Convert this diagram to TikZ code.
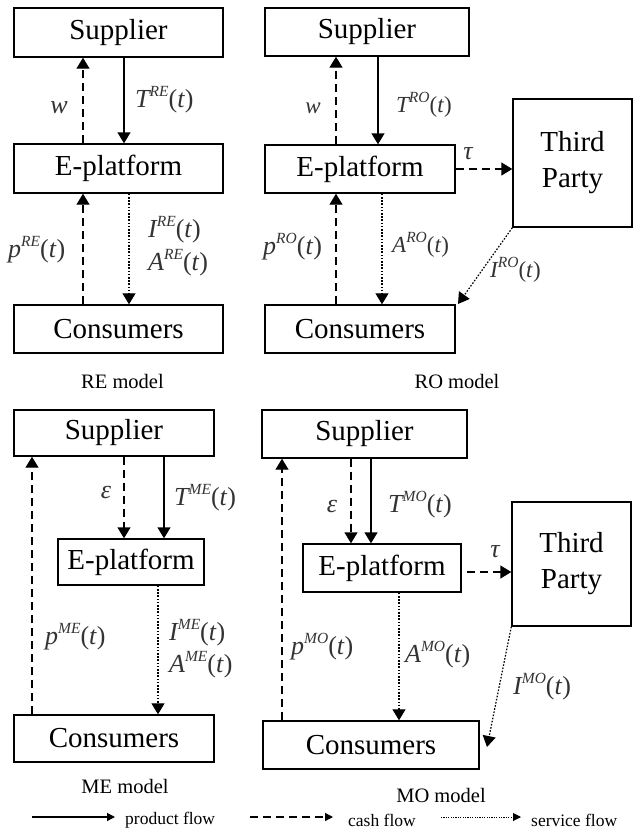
\documentclass[tikz,border=0pt]{standalone}
\usepackage{fontspec}
\setmainfont{Liberation Serif}
\usetikzlibrary{arrows.meta}
\definecolor{lblgray}{HTML}{333333}
\newcommand{\lbl}[2]{{\itshape #1}\raisebox{0.42em}{\fontsize{15.5}{16}\selectfont\itshape #2}(\textit{t})}
\tikzset{
  box/.style={draw, line width=1.4pt, inner sep=0pt, font=\fontsize{29}{36}\selectfont},
  tip/.style={-{Triangle[width=13pt,length=11pt]}},
  prod/.style={tip, line width=1.4pt},
  cash/.style={tip, line width=1.4pt, dash pattern=on 8pt off 5pt},
  serv/.style={tip, line width=1.2pt, dash pattern=on 1.6pt off 1.6pt},
  lab/.style={text=lblgray, inner sep=0pt, font=\fontsize{26}{28}\selectfont},
  labs/.style={text=lblgray, inner sep=0pt, font=\fontsize{23}{26}\selectfont},
  model/.style={inner sep=0pt, font=\fontsize{20.5}{22}\selectfont},
  legtxt/.style={inner sep=0pt, anchor=west, font=\fontsize{17.5}{19}\selectfont},
  legtip/.style={-{Triangle[width=8pt,length=8pt]}, line width=1.2pt}
}
\begin{document}
\begin{tikzpicture}[x=1pt,y=-1pt]
\useasboundingbox (0,0) rectangle (633,831);

% ---------- RE model ----------
\node[box, minimum width=209, minimum height=49] (S1) at (118.5,32.5) {Supplier};
\node[box, minimum width=209, minimum height=49] (E1) at (118.5,168.5) {E-platform};
\node[box, minimum width=209, minimum height=48] (C1) at (118.5,329) {Consumers};
\coordinate (a1) at (83,0);
\coordinate (b1) at (124,0);
\coordinate (d1) at (129,0);
\draw[cash] (E1.north -| a1) -- (S1.south -| a1);
\draw[prod] (S1.south -| b1) -- (E1.north -| b1);
\draw[cash] (C1.north -| a1) -- (E1.south -| a1);
\draw[serv] (E1.south -| d1) -- (C1.north -| d1);
\node[lab] (w1) at (59,108) {\itshape w};
\node[lab, anchor=west] (t1) at (135,100) {\lbl{T}{RE}};
\node[lab, anchor=west] (p1) at (8,250) {\lbl{p}{RE}};
\node[lab, anchor=west] (i1) at (148,230) {\lbl{I}{RE}};
\node[lab, anchor=west] (r1) at (148,263) {\lbl{A}{RE}};
\node[model] (m1) at (122.5,381) {RE model};

% ---------- RO model ----------
\node[box, minimum width=204, minimum height=48] (S2) at (367,32) {Supplier};
\node[box, minimum width=190, minimum height=48] (E2) at (360,169) {E-platform};
\node[box, minimum width=119, minimum height=128, align=center] (P2) at (572.5,163) {Third\\Party};
\node[box, minimum width=190, minimum height=48] (C2) at (360,329) {Consumers};
\coordinate (a2) at (336,0);
\coordinate (b2) at (378,0);
\coordinate (d2) at (382,0);
\coordinate (e2) at (458,304);
\draw[cash] (E2.north -| a2) -- (S2.south -| a2);
\draw[prod] (S2.south -| b2) -- (E2.north -| b2);
\draw[cash] (C2.north -| a2) -- (E2.south -| a2);
\draw[serv] (E2.south -| d2) -- (C2.north -| d2);
\draw[cash] (E2.east) -- (E2.east -| P2.west);
\draw[serv] (P2.south west) -- (e2);
\node[labs] (w2) at (313,108) {\itshape w};
\node[labs, anchor=west] (t2) at (396,105) {\lbl{T}{RO}};
\node[lab] (u2) at (468,154) {\itshape τ};
\node[lab, anchor=west] (p2) at (263,247) {\lbl{p}{RO}};
\node[labs, anchor=west] (r2) at (392,245) {\lbl{A}{RO}};
\node[labs, anchor=west] (i2) at (490,270) {\lbl{I}{RO}};
\node[model] (m2) at (457,381) {RO model};

% ---------- ME model ----------
\node[box, minimum width=200, minimum height=46] (S3) at (114,433) {Supplier};
\node[box, minimum width=146, minimum height=46] (E3) at (131,562) {E-platform};
\node[box, minimum width=200, minimum height=47] (C3) at (114,738.5) {Consumers};
\coordinate (a3) at (32,0);
\coordinate (b3) at (124,0);
\coordinate (c3) at (164,0);
\coordinate (d3) at (158,0);
\draw[cash] (C3.north -| a3) -- (S3.south -| a3);
\draw[cash] (S3.south -| b3) -- (E3.north -| b3);
\draw[prod] (S3.south -| c3) -- (E3.north -| c3);
\draw[serv] (E3.south -| d3) -- (C3.north -| d3);
\node[lab] (g3) at (106,492) {\itshape ε};
\node[lab, anchor=west] (t3) at (174,498) {\lbl{T}{ME}};
\node[lab, anchor=west] (p3) at (45,637) {\lbl{p}{ME}};
\node[lab, anchor=west] (i3) at (169,633) {\lbl{I}{ME}};
\node[lab, anchor=west] (r3) at (169,665) {\lbl{A}{ME}};
\node[model] (m3) at (125,786) {ME model};

% ---------- MO model ----------
\node[box, minimum width=205, minimum height=48] (S4) at (364.5,434) {Supplier};
\node[box, minimum width=158, minimum height=48] (E4) at (382,568) {E-platform};
\node[box, minimum width=119, minimum height=124, align=center] (P4) at (571.5,564) {Third\\Party};
\node[box, minimum width=216, minimum height=48] (C4) at (371,745) {Consumers};
\coordinate (a4) at (282,0);
\coordinate (b4) at (351,0);
\coordinate (c4) at (371,0);
\coordinate (d4) at (399,0);
\coordinate (t4) at (467,572);
\coordinate (e4) at (487,747);
\draw[cash] (C4.north -| a4) -- (S4.south -| a4);
\draw[cash] (S4.south -| b4) -- (E4.north -| b4);
\draw[prod] (S4.south -| c4) -- (E4.north -| c4);
\draw[serv] (E4.south -| d4) -- (C4.north -| d4);
\draw[cash] (t4) -- (t4 -| P4.west);
\draw[serv] (P4.south west) -- (e4);
\node[lab] (g4) at (332,506) {\itshape ε};
\node[lab, anchor=west] (t4l) at (388,505) {\lbl{T}{MO}};
\node[lab] (u4) at (495,552) {\itshape τ};
\node[lab, anchor=west] (p4) at (291,647) {\lbl{p}{MO}};
\node[lab, anchor=west] (r4) at (405,655) {\lbl{A}{MO}};
\node[lab, anchor=west] (i4) at (513,687) {\lbl{I}{MO}};
\node[model] (m4) at (441,795) {MO model};

% ---------- legend ----------
\coordinate (l1a) at (32,817);
\coordinate (l1b) at (115,817);
\coordinate (l2a) at (250,817);
\coordinate (l2b) at (333,817);
\coordinate (l3a) at (441,817);
\coordinate (l3b) at (521,817);
\draw[legtip] (l1a) -- (l1b);
\draw[legtip, dash pattern=on 8pt off 5pt] (l2a) -- (l2b);
\draw[legtip, line width=1pt, dash pattern=on 1.2pt off 1.2pt] (l3a) -- (l3b);
\node[legtxt] (k1) at (125,820) {product flow};
\node[legtxt] (k2) at (348,820) {cash flow};
\node[legtxt] (k3) at (531,820) {service flow};
\end{tikzpicture}
\end{document}
